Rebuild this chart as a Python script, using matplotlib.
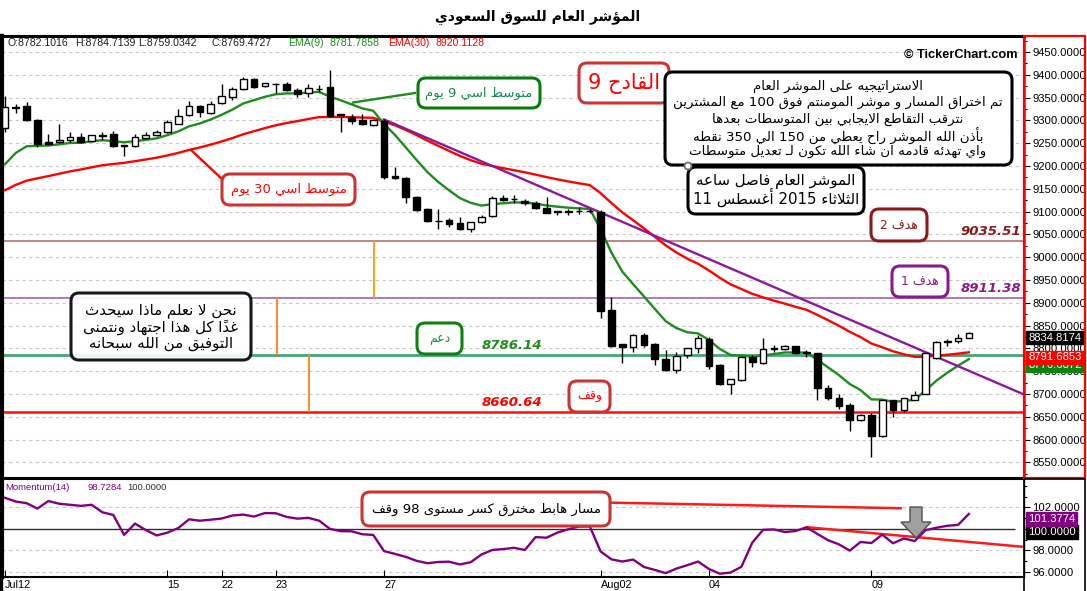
import re
import numpy as np
import matplotlib
matplotlib.use('Agg')
import matplotlib.pyplot as plt
from matplotlib.patches import FancyBboxPatch, Rectangle, Polygon, Circle
from matplotlib.transforms import blended_transform_factory

# ---------------- data ----------------
OPEN = [9283, 9330, 9331, 9301, 9252, 9252, 9258, 9263, 9254, 9266,
        9270, 9245, 9244, 9262, 9269, 9275, 9293, 9311, 9331, 9317,
        9339, 9351, 9369, 9391, 9375, 9380, 9380, 9367, 9361, 9369,
        9374, 9313, 9308, 9301, 9289, 9299, 9178, 9174, 9132, 9105,
        9080, 9081, 9074, 9061, 9078, 9090, 9130, 9128, 9124, 9119,
        9108, 9101, 9101, 9102, 9102, 9100, 8884, 8809, 8803, 8830,
        8809, 8776, 8753, 8785, 8800, 8820, 8763, 8721, 8730, 8782.1016,
        8768, 8800, 8799, 8805, 8792, 8789, 8713, 8692, 8675, 8644,
        8655, 8608, 8686, 8664, 8688, 8701, 8778, 8815, 8816, 8824]
HIGH = [9353, 9336, 9340, 9303, 9270, 9292, 9274, 9272, 9268, 9275,
        9276, 9246, 9271, 9275, 9278, 9300, 9325, 9342, 9333, 9343,
        9380, 9373, 9395, 9392, 9383, 9381, 9385, 9370, 9380, 9378,
        9410, 9315, 9313, 9313, 9304, 9303, 9197, 9175, 9135, 9107,
        9105, 9085, 9088, 9078, 9092, 9134, 9137, 9136, 9127, 9124,
        9132, 9102, 9105, 9110, 9106, 9103, 8913, 8810, 8831, 8833,
        8813, 8796, 8792, 8802, 8830, 8825, 8765, 8734, 8783, 8784.7139,
        8824, 8807, 8808, 8806, 8796, 8790, 8719, 8700, 8680, 8657,
        8658, 8686, 8688, 8692, 8706, 8790, 8816, 8820, 8831, 8836]
LOW = [9275, 9317, 9299, 9241, 9246, 9250, 9253, 9251, 9252, 9257,
       9242, 9222, 9241, 9260, 9266, 9273, 9291, 9309, 9308, 9315,
       9337, 9345, 9367, 9372, 9373, 9360, 9365, 9352, 9352, 9362,
       9308, 9275, 9291, 9290, 9288, 9172, 9171, 9119, 9102, 9078,
       9061, 9066, 9060, 9055, 9076, 9088, 9123, 9119, 9115, 9105,
       9096, 9092, 9092, 9095, 9096, 8866, 8803, 8768, 8793, 8804,
       8764, 8751, 8746, 8780, 8790, 8755, 8720, 8701, 8728, 8759.0342,
       8766, 8792, 8797, 8788, 8782, 8688, 8688, 8668, 8619, 8640,
       8562, 8606, 8650, 8661, 8686, 8700, 8777, 8805, 8812, 8823]
CLOSE = [9330, 9328, 9301, 9248, 9248, 9257, 9263, 9253, 9267, 9267,
         9244, 9244, 9263, 9269, 9274, 9296, 9309, 9331, 9319, 9337,
         9353, 9369, 9391, 9374, 9381, 9379, 9367, 9358, 9370, 9368,
         9310, 9312, 9299, 9291, 9301, 9176, 9173, 9131, 9103, 9080,
         9079, 9073, 9061, 9078, 9089, 9130, 9125, 9128, 9119, 9107,
         9098, 9100, 9100, 9101, 9101, 8882.42, 8805, 8803, 8830, 8807,
         8777, 8753, 8783, 8800, 8822, 8761, 8721, 8732, 8781, 8769.4727,
         8798, 8799, 8805, 8790, 8791, 8713, 8691, 8674, 8644, 8655,
         8607, 8686, 8664, 8692, 8699, 8789, 8815, 8816, 8824, 8834.8174]

EMA9_START = 9204.0
EMA30_START = 9147.0
MOM_PERIOD = 14
MOM_HEAD = [102.9, 102.55, 102.4, 101.9, 102.6, 102.35, 102.25, 102.15,
            102.25, 101.55, 101.3, 99.45, 100.5, 99.9]
MOM_REF = 100.0

LEVELS = [9035.51, 8911.38, 8786.14, 8660.64]
LEVEL_LABELS = ['9035.51', '8911.38', '8786.14', '8660.64']
TREND_X = [35.0, 94.0]
TREND_Y = [9302.0, 8700.0]
MOM_TREND1_X = [55.9, 82.7]
MOM_TREND1_Y = [102.45, 101.93]
MOM_TREND2_X = [74.1, 94.1]
MOM_TREND2_Y = [100.16, 98.33]
ORANGE_X = [34.1, 25.1, 28.1]
ORANGE_SPANS = [(9035.51, 8911.38), (8911.38, 8786.14), (8786.14, 8660.64)]

DATE_TICKS = [0, 15, 20, 25, 35, 55, 65, 80]
DATE_LABELS = ['Jul12', '15', '22', '23', '27', 'Aug02', '04', '09']

LAST_LABELS = {'close': '8834.8174', 'ema30': '8791.6853', 'mom': '101.3774', 'ref': '100.0000'}

TITLE = 'المؤشر العام للسوق السعودي'
EMA9_NOTE = 'متوسط اسي 9 يوم'
EMA30_NOTE = 'متوسط اسي 30 يوم'
TRIGGER = 'القادح 9'
STRATEGY = ['الاستراتيجيه على الموشر العام',
            'تم اختراق المسار و موشر المومنتم فوق 100 مع المشترين',
            'نترقب التقاطع الايجابي بين المتوسطات بعدها',
            'بأذن الله الموشر راح يعطي من 150 الي 350 نقطه',
            'واي تهدئه قادمه ان شاء الله تكون لـ تعديل متوسطات']
DATE_NOTE = ['الموشر العام فاصل ساعه', 'الثلاثاء 2015 أغسطس 11']
TARGET2 = 'هدف 2'
TARGET1 = 'هدف 1'
SUPPORT = 'دعم'
STOP = 'وقف'
DISCLAIMER = ['نحن لا نعلم ماذا سيحدث', 'غداً كل هذا اجتهاد ونتمنى', 'التوفيق من الله سبحانه']
MOM_NOTE = 'مسار هابط مخترق كسر مستوى 98 وقف'

# ---------------- arabic shaping (presentation forms + visual order) ----------------
_DUAL = {'\u0626': 0xFE89, '\u0628': 0xFE8F, '\u062A': 0xFE95, '\u062B': 0xFE99,
         '\u062C': 0xFE9D, '\u062D': 0xFEA1, '\u062E': 0xFEA5, '\u0633': 0xFEB1,
         '\u0634': 0xFEB5, '\u0635': 0xFEB9, '\u0636': 0xFEBD, '\u0637': 0xFEC1,
         '\u0638': 0xFEC5, '\u0639': 0xFEC9, '\u063A': 0xFECD, '\u0641': 0xFED1,
         '\u0642': 0xFED5, '\u0643': 0xFED9, '\u0644': 0xFEDD, '\u0645': 0xFEE1,
         '\u0646': 0xFEE5, '\u0647': 0xFEE9, '\u064A': 0xFEF1}
_RIGHT = {'\u0622': 0xFE81, '\u0623': 0xFE83, '\u0624': 0xFE85, '\u0625': 0xFE87,
          '\u0627': 0xFE8D, '\u0629': 0xFE93, '\u062F': 0xFEA9, '\u0630': 0xFEAB,
          '\u0631': 0xFEAD, '\u0632': 0xFEAF, '\u0648': 0xFEED, '\u0649': 0xFEEF}
_LAMALEF = {'\u0622': 0xFEF5, '\u0623': 0xFEF7, '\u0625': 0xFEF9, '\u0627': 0xFEFB}


def _jtype(ch):
    if ch in _DUAL or ch == '\u0640':
        return 'D'
    if ch in _RIGHT:
        return 'R'
    if '\u064B' <= ch <= '\u0652' or ch == '\u0670':
        return 'T'
    return 'U'


def ar(text):
    units = []
    i, n = 0, len(text)
    while i < n:
        ch = text[i]
        t = _jtype(ch)
        if t == 'T':
            if units:
                units[-1]['marks'] += ch
            i += 1
            continue
        if ch == '\u0644' and i + 1 < n and text[i + 1] in _LAMALEF:
            units.append({'b': ch, 'la': text[i + 1], 't': 'R', 'marks': ''})
            i += 2
            continue
        units.append({'b': ch, 'la': None, 't': t, 'marks': ''})
        i += 1
    clusters = []
    for k, u in enumerate(units):
        jp = k > 0 and units[k - 1]['t'] == 'D' and u['t'] in ('D', 'R')
        jn = k < len(units) - 1 and u['t'] == 'D' and units[k + 1]['t'] in ('D', 'R')
        b = u['b']
        if u['la'] is not None:
            g = chr(_LAMALEF[u['la']] + (1 if jp else 0))
        elif b in _DUAL:
            s = _DUAL[b]
            g = chr(s + 3) if (jp and jn) else chr(s + 1) if jp else chr(s + 2) if jn else chr(s)
        elif b in _RIGHT:
            g = chr(_RIGHT[b] + (1 if jp else 0))
        else:
            g = b
        clusters.append(g + u['marks'])
    runs = []
    for cch in clusters:
        is_ltr = bool(re.match(r'[0-9A-Za-z.]', cch))
        if runs and runs[-1][0] == is_ltr:
            runs[-1][1].append(cch)
        else:
            runs.append([is_ltr, [cch]])
    out = []
    for is_ltr, cl in reversed(runs):
        out.extend(cl if is_ltr else list(reversed(cl)))
    return ''.join(out)


# ---------------- derived series ----------------
def ema(vals, period, seed):
    a = 2.0 / (period + 1)
    res = [seed]
    for v in vals[1:]:
        res.append(res[-1] + a * (v - res[-1]))
    return np.array(res)


o = np.array(OPEN); h = np.array(HIGH); l = np.array(LOW); c = np.array(CLOSE)
idx = np.arange(len(c))
ema9 = ema(CLOSE, 9, EMA9_START)
ema30 = ema(CLOSE, 30, EMA30_START)
mom = np.array(list(MOM_HEAD) + [c[i] / c[i - MOM_PERIOD] * 100 for i in range(MOM_PERIOD, len(c))])

# ---------------- figure ----------------
W, H = 1087, 591
fig = plt.figure(figsize=(W / 100, H / 100), dpi=100)
fig.patch.set_facecolor('white')
NUMFONT = 'Liberation Sans'
ARFONT = 'DejaVu Sans'


def fr(x0, y0, x1, y1):
    return [x0 / W, 1 - y1 / H, (x1 - x0) / W, (y1 - y0) / H]


STEP = 10.83
X0PX = 5.0


def pxi(px):
    return (px - X0PX) / STEP


ax = fig.add_axes(fr(2, 36, 1024, 478))
axm = fig.add_axes(fr(2, 479, 1024, 577))
for a in (ax, axm):
    a.set_xlim(pxi(2), pxi(1024))

ax.set_ylim(8516, 9485)
axm.set_ylim(95.53, 104.65)

# grid / ticks
ax.set_yticks(np.arange(8550, 9451, 50))
ax.set_yticks(np.arange(8525, 9476, 50), minor=True)
ax.grid(axis='y', which='major', color='#c8c8c8', ls=(0, (3, 3)), lw=0.8, zorder=0)
ax.set_xticks([])
ax.yaxis.tick_right()
ax.set_yticklabels([f'{v:.4f}' for v in np.arange(8550, 9451, 50)])
ax.tick_params(axis='y', which='major', direction='out', length=4, width=0.8, pad=2,
               labelsize=8.1, colors='black')
ax.tick_params(axis='y', which='minor', direction='out', length=2, width=0.8)
for t in ax.get_yticklabels():
    t.set_fontfamily(NUMFONT)

# level lines
LEVEL_COLORS = ['#b06a6a', '#a05ab0', '#3f9f70', '#ff0000']
LEVEL_WIDTHS = [1.2, 1.2, 2.0, 1.8]
for lv, col, lw in zip(LEVELS, LEVEL_COLORS, LEVEL_WIDTHS):
    ax.axhline(lv, color=col, lw=lw, zorder=2, alpha=0.95)
ORANGE_COLORS = ['#ffa020', '#ff8a2a', '#ff8a2a']
for xo, (ya, yb), col in zip(ORANGE_X, ORANGE_SPANS, ORANGE_COLORS):
    ax.vlines(xo, yb, ya, color=col, lw=1.4, zorder=2)

# moving averages + trendline
ax.plot(idx, ema30, color='#ff0000', lw=1.7, zorder=3)
ax.plot(idx, ema9, color='#1e8c1e', lw=1.7, zorder=3)
ax.plot(TREND_X, TREND_Y, color='#8b1a9b', lw=1.7, zorder=3)

# candles
up = c >= o
ax.vlines(idx, l, h, color='black', lw=1.0, zorder=4)
body_lo = np.minimum(o, c)
body_h = np.maximum(np.abs(c - o), 0.6)
ax.bar(idx, body_h, bottom=body_lo, width=0.62,
       color=np.where(up, 'white', 'black'), edgecolor='black', linewidth=1.0, zorder=5)

# level labels
LEVEL_TEXT_COLORS = ['#8b1a1a', '#8b1a8b', '#1e8c1e', '#ff0000']
LEVEL_TEXT_X = [1021, 1021, 542, 542]
for lv, lab, col, xp in zip(LEVELS, LEVEL_LABELS, LEVEL_TEXT_COLORS, LEVEL_TEXT_X):
    ax.text(pxi(xp), lv + 6, lab, ha='right', va='bottom', color=col,
            fontsize=9.6, fontweight='bold', style='italic', family='DejaVu Sans', zorder=6)

# spines main
for s, col, lw in (('left', 'black', 3), ('top', 'black', 2.2), ('right', 'red', 1.8), ('bottom', 'black', 1.5)):
    ax.spines[s].set_color(col)
    ax.spines[s].set_linewidth(lw)

# right value boxes (main)
tr = blended_transform_factory(ax.transAxes, ax.transData)
ax.text(1.004, ema9[-1] - 3, f'{ema9[-1]:.4f}', transform=tr, ha='left', va='top', fontsize=8.1,
        family=NUMFONT, color='white', clip_on=False, zorder=7,
        bbox=dict(boxstyle='square,pad=0.15', fc='#108010', ec='#108010'))
ax.text(1.004, ema30[-1], LAST_LABELS['ema30'], transform=tr, ha='left', va='top', fontsize=8.1,
        family=NUMFONT, color='white', clip_on=False, zorder=8,
        bbox=dict(boxstyle='square,pad=0.15', fc='#ff0000', ec='#ff0000'))
ax.text(1.004, c[-1], LAST_LABELS['close'], transform=tr, ha='left', va='top', fontsize=8.1,
        family=NUMFONT, color='white', clip_on=False, zorder=9,
        bbox=dict(boxstyle='square,pad=0.15', fc='black', ec='black'))

# ---------------- momentum panel ----------------
axm.set_yticks([96, 98, 100, 102])
axm.set_yticks([97, 99, 101, 103, 104], minor=True)
axm.yaxis.tick_right()
axm.set_yticklabels(['96.0000', '98.0000', '', '102.0000'])
axm.tick_params(axis='y', which='major', direction='out', length=4, width=0.8, pad=2, labelsize=8.1)
axm.tick_params(axis='y', which='minor', direction='out', length=2, width=0.8)
for t in axm.get_yticklabels():
    t.set_fontfamily(NUMFONT)
for gv in (96, 98, 102):
    axm.axhline(gv, color='#c8c8c8', ls=(0, (3, 3)), lw=0.8, zorder=0)
axm.hlines(MOM_REF, pxi(2), pxi(1015), color='#303030', lw=1.0, zorder=2)
axm.plot(idx, mom, color='#800080', lw=1.7, zorder=4)
axm.plot(MOM_TREND1_X, MOM_TREND1_Y, color='#ff1a1a', lw=1.8, zorder=3)
axm.plot(MOM_TREND2_X, MOM_TREND2_Y, color='#ff1a1a', lw=1.8, zorder=3)

axm.set_xticks(DATE_TICKS)
axm.set_xticklabels(DATE_LABELS)
axm.tick_params(axis='x', direction='in', length=5, width=0.8, pad=2, labelsize=7.8)
for t in axm.get_xticklabels():
    t.set_ha('left')
    t.set_fontfamily(NUMFONT)
for s, lw in (('left', 3), ('top', 1.5), ('right', 1.0), ('bottom', 1.5)):
    axm.spines[s].set_color('black')
    axm.spines[s].set_linewidth(lw)

trm = blended_transform_factory(axm.transAxes, axm.transData)
axm.text(1.004, MOM_REF + 0.18, LAST_LABELS['ref'], transform=trm, ha='left', va='top', fontsize=8.1,
         family=NUMFONT, color='white', clip_on=False, zorder=7,
         bbox=dict(boxstyle='square,pad=0.15', fc='black', ec='black'))
axm.text(1.004, mom[-1], LAST_LABELS['mom'], transform=trm, ha='left', va='top', fontsize=8.1,
         family=NUMFONT, color='white', clip_on=False, zorder=8,
         bbox=dict(boxstyle='square,pad=0.15', fc='#800080', ec='#800080'))

# ---------------- overlay (pixel coordinates) ----------------
ov = fig.add_axes([0, 0, 1, 1], zorder=20)
ov.set_xlim(0, W)
ov.set_ylim(H, 0)
ov.axis('off')
ov.patch.set_alpha(0)


def rbox(x0, y0, x1, y1, ec, lw=2.2, r=8, fc='white', alpha=1.0):
    ov.add_patch(FancyBboxPatch((x0, y0), x1 - x0, y1 - y0,
                                boxstyle=f'round,pad=0,rounding_size={r}',
                                ec=ec, fc=fc, lw=lw, alpha=alpha, zorder=5))


def atext(x, y, s, size, color, weight='normal'):
    ov.text(x, y, ar(s), ha='center', va='center', fontsize=size, color=color,
            family=ARFONT, fontweight=weight, zorder=6)


# frames
ov.add_patch(Rectangle((1024, 36), 61, 442, fc='none', ec='#ff0000', lw=1.6, zorder=4))
ov.add_patch(Rectangle((1024, 479), 61, 125, fc='none', ec='black', lw=1.2, zorder=4))
ov.plot([1.2, 1.2], [35, 591], color='black', lw=2.4, zorder=4)

# title and copyright
atext(538, 17, TITLE, 10, 'black', 'bold')
ov.text(1018, 55, '© TickerChart.com', ha='right', va='center', fontsize=9.2,
        fontweight='bold', family=NUMFONT, color='black')

# header texts
hy = 43
for x, s, col in ((7, 'O:8782.1016', '#202020'), (75, 'H:8784.7139', '#202020'),
                  (138, 'L:8759.0342', '#202020'), (211, 'C:8769.4727', '#202020'),
                  (288, 'EMA(9)', '#1e8c1e'), (329, '8781.7858', '#1e8c1e'),
                  (388, 'EMA(30)', '#ff0000'), (436, '8920.1128', '#ff0000')):
    ov.text(x, hy, s, ha='left', va='center', fontsize=7.6, family=NUMFONT, color=col)
for x, s, col in ((5.5, 'Momentum(14)', '#800080'), (87, '98.7284', '#800080'),
                  (127, '100.0000', '#303030')):
    ov.text(x, 487, s, ha='left', va='center', fontsize=6.8, family=NUMFONT, color=col)

# EMA notes
ov.plot([415, 353], [93, 102.5], color='#1e8c1e', lw=1.7, zorder=4)
rbox(418, 78, 540, 108, '#0a7a0a')
atext(479, 93, EMA9_NOTE, 9.5, '#178a4c')
ov.plot([222, 191], [179, 150], color='#ff0000', lw=1.7, zorder=4)
rbox(222, 174, 355, 205, '#cc3333')
atext(288.5, 189.5, EMA30_NOTE, 9.5, '#ff0000')

# trigger
rbox(579, 63, 669, 103, '#cc3333')
atext(624, 83, TRIGGER, 15, '#ff0000')

# strategy box
rbox(665, 72, 1012, 165, 'black')
for yy, s in zip([86.7, 102.7, 119.3, 136, 151.7], STRATEGY):
    atext(838, yy, s, 9.6, 'black')

# date box
ov.add_patch(Circle((688, 166), 3.5, fc='white', ec='#707070', lw=1.3, zorder=7))
rbox(688, 167, 864, 214, 'black')
for yy, s in zip([181.7, 197.3], DATE_NOTE):
    atext(776, yy, s, 10.8, 'black')

# targets / support / stop
rbox(871, 209, 927, 241, '#8b1a1a')
atext(899, 225, TARGET2, 9, '#8b1a1a')
rbox(892, 266, 948, 297, '#8b1a8b')
atext(920, 281.5, TARGET1, 9, '#8b1a8b')
rbox(417, 323, 462, 354, '#108010')
atext(439.5, 338.5, SUPPORT, 9, '#1e8c3c')
rbox(569, 381, 610, 412, '#cc3333')
atext(589.5, 396.5, STOP, 9, '#ff0000')

# disclaimer
rbox(71, 293, 251, 360, 'black', alpha=0.9)
for yy, s in zip([310, 326.7, 343.3], DISCLAIMER):
    atext(161, yy, s, 10.8, 'black')

# momentum note
rbox(362, 492, 610, 526, '#cc3333')
atext(486, 509, MOM_NOTE, 9.5, 'black')

# gray arrow
ov.add_patch(Polygon([(910, 507), (922, 507), (922, 522), (931, 522), (916, 538),
                      (901, 522), (910, 522)], closed=True, fc='#a0a0a0', ec='#505050',
                     lw=1.0, zorder=6))

fig.savefig('out.png', dpi=100)
